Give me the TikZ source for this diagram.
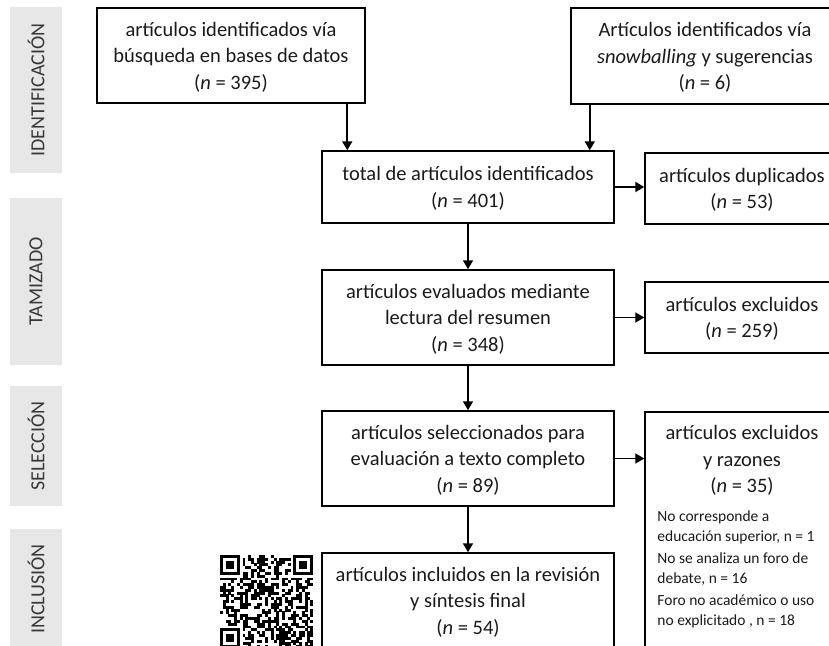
\documentclass[tikz,border=0pt]{standalone}
\usepackage{fontspec}
\setmainfont{Carlito}
\usetikzlibrary{arrows.meta,positioning}
\definecolor{barfill}{HTML}{E7E7E7}
\definecolor{bartext}{HTML}{383838}
\definecolor{boxtext}{HTML}{1A1A1A}
\tikzset{
  caja/.style={draw, line width=1.5pt, inner sep=0pt, align=center, text=boxtext,
    font=\fontsize{20.5}{26.5}\selectfont, text depth=-5pt},
  flecha/.style={line width=1.8pt, -{Triangle[length=9pt,width=10pt]}},
  fase/.style={fill=barfill, inner sep=0pt, minimum height=52, rotate=90, text=bartext,
    font=\fontsize{20}{20}\selectfont},
  razon/.style={inner sep=0pt, align=left, text=boxtext, font=\fontsize{15.5}{19.5}\selectfont}
}
\newcommand{\nn}[1]{(\textit{n} = #1)}
\begin{document}
\begin{tikzpicture}[x=1pt, y=-1pt]
    \useasboundingbox (0,0) rectangle (829,645);
    \clip (0,0) rectangle (829,645);

    % 階段
    \node[fase, minimum width=166] (ident) at (36,90) {IDENTIFICACIÓN};
    \node[fase, minimum width=167] (tamiz) at (36,281.5) {TAMIZADO};
    \node[fase, minimum width=120] (selec) at (36,446) {SELECCIÓN};
    \node[fase, minimum width=120] (inclu) at (36,589) {INCLUSIÓN};

    % 方框
    \node[caja, minimum width=268, minimum height=95] (base) at (231,55.5)
        {artículos identificados vía\\búsqueda en bases de datos\\\nn{395}};
    \node[caja, minimum width=268, minimum height=96] (bola) at (705,56)
        {Artículos identificados vía\\\textit{snowballing} y sugerencias\\\nn{6}};
    \node[caja, minimum width=292, minimum height=72] (total) at (468,187)
        {total de artículos identificados\\\nn{401}};
    \node[caja, minimum width=194, minimum height=71] (dup) at (742,188.5)
        {artículos duplicados\\\nn{53}};
    \node[caja, minimum width=292, minimum height=95] (eval) at (468,317.5)
        {artículos evaluados mediante\\lectura del resumen\\\nn{348}};
    \node[caja, minimum width=194, minimum height=71] (excl) at (742,317.5)
        {artículos excluidos\\\nn{259}};
    \node[caja, minimum width=292, minimum height=95] (sel) at (468,458.5)
        {artículos seleccionados para\\evaluación a texto completo\\\nn{89}};
    \node[caja, minimum width=194, minimum height=250, anchor=north] (razones) at (742,411) {};
    \node[caja, draw=none, anchor=north] (razt) at ([yshift=-14]razones.north)
        {artículos excluidos\\y razones\\\nn{35}};
    \node[razon, anchor=north west] (razl) at ([xshift=13, yshift=-100]razones.north west)
        {No corresponde a\\educación superior, n = 1\\[3pt]No se analiza un foro de\\debate, n = 16\\[3pt]Foro no académico o uso\\no explicitado , n = 18};
    \node[caja, minimum width=292, minimum height=95] (incl) at (468,600.5)
        {artículos incluidos en la revisión\\y síntesis final\\\nn{54}};

    % 箭頭
    \coordinate (in1) at ([xshift=26]total.north west);
    \coordinate (in2) at ([xshift=-25]total.north east);
    \draw[flecha] (base.south -| in1) -- (in1);
    \draw[flecha] (bola.south -| in2) -- (in2);
    \draw[flecha] (total.east) -- (total.east -| dup.west);
    \draw[flecha] (total) -- (eval);
    \draw[flecha] (eval.east) -- (eval.east -| excl.west);
    \draw[flecha] (eval) -- (sel);
    \draw[flecha] (sel.east) -- (sel.east -| razones.west);
    \draw[flecha] (sel) -- (incl);

    % 二維碼
    \def\qrm{2.82}
    \coordinate (qr) at (220,555);
    \pgfmathsetseed{11}
    \foreach \i in {0,...,32}{
      \foreach \j in {0,...,32}{
        \pgfmathtruncatemacro{\ocupado}{(\i<8 && \j<8) || (\i>24 && \j<8) || (\i<8 && \j>24)}
        \pgfmathtruncatemacro{\negro}{rnd<0.48}
        \ifnum\ocupado=0 \ifnum\negro=1
          \fill[shift={(qr)}] (\i*\qrm,\j*\qrm) rectangle ++(\qrm+0.1,\qrm+0.1);
        \fi\fi
      }
    }
    \foreach \fx/\fy in {0/0,26/0,0/26}{
      \fill[shift={(qr)}] (\fx*\qrm,\fy*\qrm) rectangle ++(7*\qrm,7*\qrm);
      \fill[shift={(qr)}, white] (\fx*\qrm+\qrm,\fy*\qrm+\qrm) rectangle ++(5*\qrm,5*\qrm);
      \fill[shift={(qr)}] (\fx*\qrm+2*\qrm,\fy*\qrm+2*\qrm) rectangle ++(3*\qrm,3*\qrm);
    }
\end{tikzpicture}
\end{document}
